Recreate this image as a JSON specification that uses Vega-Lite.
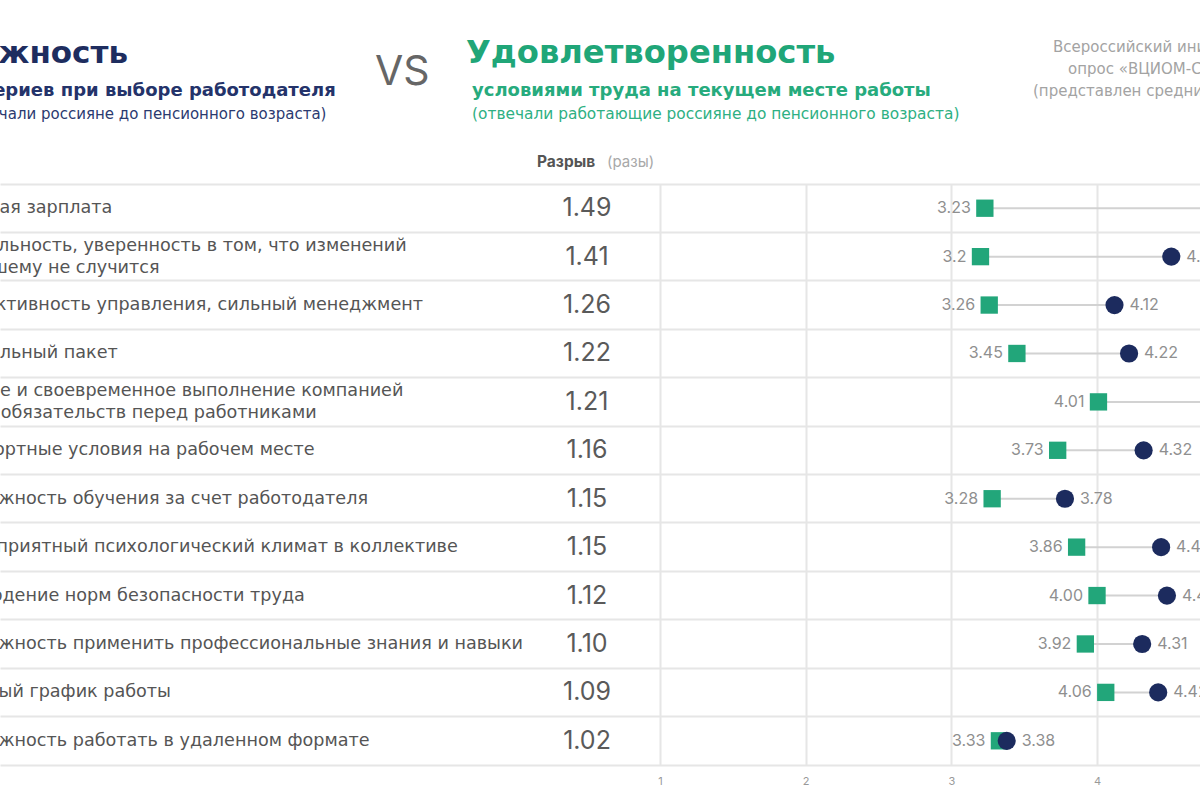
{
  "$schema": "https://vega.github.io/schema/vega-lite/v6.json",
  "autosize": "none",
  "padding": {"left": 0, "top": 172, "right": 1200, "bottom": 628},
  "background": "white",
  "bounds": "flush",
  "spacing": 0.001,
  "config": {
    "view": {"stroke": null},
    "font": "Inter",
    "concat": {"spacing": 0.001},
    "title": {"anchor": "start", "frame": "group"}
  },
  "datasets": {
    "criteria": [
      {"criterion": "Высокая зарплата", "sat": 3.23, "imp": 4.81, "gap": 1.49, "sat_t": "3.23", "imp_t": "4.81"},
      {"criterion": "Стабильность, уверенность в том, что изменений\nк худшему не случится", "sat": 3.2, "imp": 4.51, "gap": 1.41, "sat_t": "3.2", "imp_t": "4.51"},
      {"criterion": "Эффективность управления, сильный менеджмент", "sat": 3.26, "imp": 4.12, "gap": 1.26, "sat_t": "3.26", "imp_t": "4.12"},
      {"criterion": "Социальный пакет", "sat": 3.45, "imp": 4.22, "gap": 1.22, "sat_t": "3.45", "imp_t": "4.22"},
      {"criterion": "Полное и своевременное выполнение компанией\nсвоих обязательств перед работниками", "sat": 4.01, "imp": 4.85, "gap": 1.21, "sat_t": "4.01", "imp_t": "4.85"},
      {"criterion": "Комфортные условия на рабочем месте", "sat": 3.73, "imp": 4.32, "gap": 1.16, "sat_t": "3.73", "imp_t": "4.32"},
      {"criterion": "Возможность обучения за счет работодателя", "sat": 3.28, "imp": 3.78, "gap": 1.15, "sat_t": "3.28", "imp_t": "3.78"},
      {"criterion": "Благоприятный психологический климат в коллективе", "sat": 3.86, "imp": 4.44, "gap": 1.15, "sat_t": "3.86", "imp_t": "4.44"},
      {"criterion": "Соблюдение норм безопасности труда", "sat": 4.0, "imp": 4.48, "gap": 1.12, "sat_t": "4.00", "imp_t": "4.48"},
      {"criterion": "Возможность применить профессиональные знания и навыки", "sat": 3.92, "imp": 4.31, "gap": 1.10, "sat_t": "3.92", "imp_t": "4.31"},
      {"criterion": "Удобный график работы", "sat": 4.06, "imp": 4.42, "gap": 1.09, "sat_t": "4.06", "imp_t": "4.42"},
      {"criterion": "Возможность работать в удаленном формате", "sat": 3.33, "imp": 3.38, "gap": 1.02, "sat_t": "3.33", "imp_t": "3.38"}
    ]
  },
  "vconcat": [
    {
      "width": 1200, "height": 0.01, "data": {"values": []}, "mark": "point",
      "title": {"text": "Важность", "dx": -46, "offset": 102, "font": "DejaVu Sans", "fontSize": 31, "fontWeight": "bold", "color": "#1e2d5f"}
    },
    {
      "width": 1200, "height": 0.01, "data": {"values": []}, "mark": "point",
      "title": {"text": "критериев при выборе работодателя", "dx": -55, "offset": 73, "font": "DejaVu Sans", "fontSize": 18, "fontWeight": "bold", "color": "#24336a"}
    },
    {
      "width": 1200, "height": 0.01, "data": {"values": []}, "mark": "point",
      "title": {"text": "(отвечали россияне до пенсионного возраста)", "dx": -43, "offset": 52, "font": "DejaVu Sans", "fontSize": 15, "fontWeight": "normal", "color": "#2b3a70"}
    },
    {
      "width": 1200, "height": 0.01, "data": {"values": []}, "mark": "point",
      "title": {"text": "VS", "dx": 375, "offset": 81, "fontSize": 41, "fontWeight": 400, "color": "#666666"}
    },
    {
      "width": 1200, "height": 0.01, "data": {"values": []}, "mark": "point",
      "title": {"text": "Удовлетворенность", "dx": 466, "offset": 106, "font": "DejaVu Sans", "fontSize": 32.2, "fontWeight": "bold", "color": "#20a678"}
    },
    {
      "width": 1200, "height": 0.01, "data": {"values": []}, "mark": "point",
      "title": {"text": "условиями труда на текущем месте работы", "dx": 472, "offset": 77, "font": "DejaVu Sans", "fontSize": 18, "fontWeight": "bold", "color": "#27ab7d"}
    },
    {
      "width": 1200, "height": 0.01, "data": {"values": []}, "mark": "point",
      "title": {"text": "(отвечали работающие россияне до пенсионного возраста)", "dx": 472, "offset": 56, "font": "DejaVu Sans", "fontSize": 15.4, "fontWeight": "normal", "color": "#2eb083"}
    },
    {
      "width": 1200, "height": 0.01, "data": {"values": []}, "mark": "point",
      "title": {"text": "Всероссийский инициативный", "dx": 1053, "offset": 124, "font": "DejaVu Sans", "fontSize": 15, "fontWeight": "normal", "color": "#a3a3a3"}
    },
    {
      "width": 1200, "height": 0.01, "data": {"values": []}, "mark": "point",
      "title": {"text": "опрос «ВЦИОМ-Спутник»", "dx": 1068, "offset": 103, "font": "DejaVu Sans", "fontSize": 15, "fontWeight": "normal", "color": "#a3a3a3"}
    },
    {
      "width": 1200, "height": 0.01, "data": {"values": []}, "mark": "point",
      "title": {"text": "(представлен средний балл)", "dx": 1033, "offset": 82, "font": "DejaVu Sans", "fontSize": 15, "fontWeight": "normal", "color": "#a3a3a3"}
    },
    {
      "width": 1200, "height": 0.01, "data": {"values": []}, "mark": "point",
      "title": {"text": "Разрыв", "dx": 537, "offset": 12, "fontSize": 15.5, "fontWeight": 700, "color": "#555555"}
    },
    {
      "width": 1200, "height": 0.01, "data": {"values": []}, "mark": "point",
      "title": {"text": "(разы)", "dx": 607, "offset": 13.5, "fontSize": 15, "fontWeight": 400, "color": "#a8a8a8"}
    },
    {
      "width": 1200,
      "height": 581,
      "data": {"name": "criteria"},
      "encoding": {
        "y": {
          "field": "criterion", "type": "nominal", "sort": null,
          "scale": {"paddingInner": 0, "paddingOuter": 0},
          "axis": {
            "orient": "left",
            "title": null,
            "labelAlign": "left", "labelBaseline": "middle",
            "labelPadding": 58, "labelLimit": 1200,
            "labelFont": "DejaVu Sans",
            "labelFontSize": 17.6, "labelColor": "#555555", "labelLineHeight": 22,
            "labelExpr": "split(datum.label, '\\n')",
            "labelOffset": {"condition": {"test": "indexof(datum.value, '\\n') >= 0", "value": -11}, "value": 0},
            "ticks": false, "domain": false,
            "grid": true, "bandPosition": 0, "gridColor": "#e6e6e6", "gridWidth": 2
          }
        }
      },
      "layer": [
        {
          "mark": {"type": "rule", "color": "#d2d2d2", "strokeWidth": 2},
          "encoding": {
            "x": {
              "field": "sat", "type": "quantitative",
              "scale": {"domain": [-3.531, 4.707], "nice": false, "zero": false},
              "axis": {
                "values": [1, 2, 3, 4],
                "format": "d",
                "title": null,
                "grid": true, "gridColor": "#e6e6e6", "gridWidth": 2,
                "domain": true, "domainColor": "#e6e6e6", "domainWidth": 2,
                "ticks": false,
                "labelFontSize": 11, "labelColor": "#999999", "labelPadding": 10
              }
            },
            "x2": {"field": "imp"}
          }
        },
        {
          "mark": {"type": "text", "fontSize": 25, "color": "#5a5a5a", "dx": -13},
          "encoding": {
            "text": {"field": "gap", "type": "quantitative", "format": ".2f"}
          }
        },
        {
          "mark": {"type": "square", "color": "#22a67a", "size": 300, "opacity": 1},
          "encoding": {"x": {"field": "sat", "type": "quantitative"}}
        },
        {
          "mark": {"type": "circle", "color": "#1c2b5e", "size": 330, "opacity": 1},
          "encoding": {"x": {"field": "imp", "type": "quantitative"}}
        },
        {
          "mark": {"type": "text", "align": "right", "dx": -14, "fontSize": 16, "color": "#8f8f8f"},
          "encoding": {
            "x": {"field": "sat", "type": "quantitative"},
            "text": {"field": "sat_t"}
          }
        },
        {
          "mark": {"type": "text", "align": "left", "dx": 15, "fontSize": 16, "color": "#8f8f8f"},
          "encoding": {
            "x": {"field": "imp", "type": "quantitative"},
            "text": {"field": "imp_t"}
          }
        }
      ]
    }
  ]
}
